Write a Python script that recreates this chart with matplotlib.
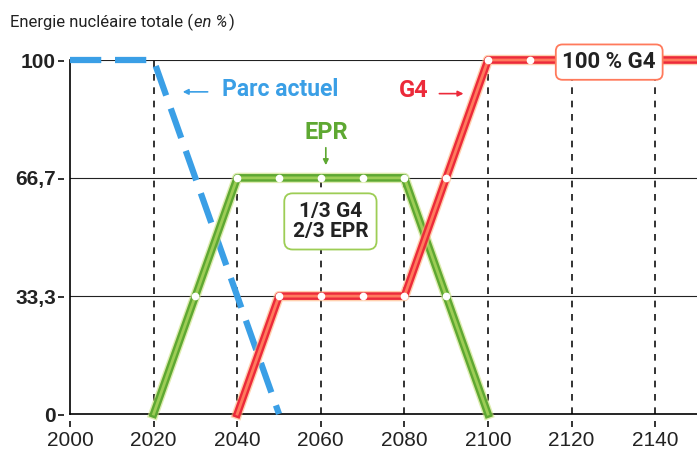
import numpy as np
import matplotlib.pyplot as plt
from matplotlib import font_manager
from matplotlib.transforms import offset_copy

# values (year, % of total nuclear energy)
parc_years = [2000, 2020, 2050]
parc_vals = [100, 100, 0]

epr_years = [2020, 2030, 2040, 2050, 2060, 2070, 2080, 2090, 2100]
epr_vals = [0, 33.3, 66.7, 66.7, 66.7, 66.7, 66.7, 33.3, 0]

g4_years = [2040, 2050, 2060, 2070, 2080, 2090, 2100, 2110, 2120, 2130, 2140, 2150]
g4_vals = [0, 33.3, 33.3, 33.3, 33.3, 66.7, 100, 100, 100, 100, 100, 100]

yticks = [0, 33.3, 66.7, 100]
ytick_labels = ['0', '33,3', '66,7', '100']
xticks = [2000, 2020, 2040, 2060, 2080, 2100, 2120, 2140]

# top of each vertical dashed guide
guide_x = [2020, 2040, 2060, 2080, 2100, 2120, 2140]
guide_top = [100, 66.7, 66.7, 66.7, 100, 100, 100]

blue = '#3a9fe6'
green_dk, green_lt = '#5ea832', '#9dcd55'
red_dk, red_lt = '#ec2a3a', '#ff7a5c'

names = {f.name for f in font_manager.fontManager.ttflist}
narrow = 'Liberation Sans Narrow' if 'Liberation Sans Narrow' in names else 'Roboto'
plt.rcParams['font.family'] = ['Liberation Sans', 'DejaVu Sans']

fig = plt.figure(figsize=(6.97, 4.53), dpi=100)
ax = fig.add_axes([70 / 697, 1 - 414 / 453, 1 - 70 / 697, (414 - 60) / 453])
ax.set_xlim(2000, 2150)
ax.set_ylim(0, 100)

# horizontal guides
for y in yticks[1:]:
    ax.axhline(y, color='#222222', lw=0.8, zorder=1)

# vertical dashed guides
for x, top in zip(guide_x, guide_top):
    ax.plot([x, x], [0, top], color='#111111', lw=1.2, dashes=(4, 4), zorder=1)

# parc actuel
ax.plot(parc_years, parc_vals, color=blue, lw=4.5, dashes=(5, 2.2),
        solid_capstyle='butt', clip_on=False, zorder=3)

# EPR
ax.plot(epr_years, epr_vals, color='#c8e07a', lw=7.5, alpha=0.6, clip_on=False, zorder=3)
ax.plot(epr_years, epr_vals, color=green_dk, lw=5.5, clip_on=False, zorder=3)
ax.plot(epr_years, epr_vals, color=green_lt, lw=2, clip_on=False, zorder=3)
ax.plot(epr_years[1:-1], epr_vals[1:-1], 'o', ms=4.5, mfc='white', mec='white',
        clip_on=False, zorder=5)

# G4
ax.plot(g4_years, g4_vals, color='#ffb27a', lw=7.5, alpha=0.6, clip_on=False, zorder=4)
ax.plot(g4_years, g4_vals, color=red_dk, lw=5.5, clip_on=False, zorder=4)
ax.plot(g4_years, g4_vals, color=red_lt, lw=2, clip_on=False, zorder=4)
ax.plot(g4_years[1:8], g4_vals[1:8], 'o', ms=4.5, mfc='white', mec='white',
        clip_on=False, zorder=5)

# axes styling
for s in ['top', 'right']:
    ax.spines[s].set_visible(False)
ax.spines['left'].set_linewidth(1.2)
ax.spines['bottom'].set_linewidth(1.2)
ax.set_yticks(yticks)
ax.set_yticklabels(ytick_labels, fontsize=15, fontweight='bold', color='#222222')
ax.set_xticks(xticks)
ax.set_xticklabels([str(x) for x in xticks], fontsize=15, color='#222222')
ax.tick_params(axis='y', length=0, pad=10)
ax.tick_params(axis='x', length=0, pad=12)

# detached tick marks, as in the printed figure
tx = offset_copy(ax.transData, fig=fig, x=0, y=-10, units='dots')
ax.plot(xticks, [0] * len(xticks), ls='', marker='|', ms=5, mew=1.3,
        color='#222222', transform=tx, clip_on=False)
ty = offset_copy(ax.transData, fig=fig, x=-9, y=-1, units='dots')
ax.plot([2000] * len(yticks), yticks, ls='', marker='_', ms=5, mew=1.3,
        color='#222222', transform=ty, clip_on=False)

# title, with "en %" in italics
t1 = fig.text(10 / 697, 1 - 22 / 453, 'Energie nucléaire totale (', fontsize=12,
              family=narrow, color='#222222', va='center', ha='left')
t2 = fig.text(0, 0, 'en %', fontsize=12, family=narrow, style='italic',
              color='#222222', va='baseline', ha='left')
t3 = fig.text(0, 0, ')', fontsize=12, family=narrow, color='#222222',
              va='baseline', ha='left')
fig.canvas.draw()
r = fig.canvas.get_renderer()
bb = t1.get_window_extent(r)
t2.set_position(((bb.x1 + 1) / fig.bbox.width, (bb.y0 + 3.2) / fig.bbox.height))
bb2 = t2.get_window_extent(r)
t3.set_position(((bb2.x1 + 1) / fig.bbox.width, (bb.y0 + 3.2) / fig.bbox.height))

# annotations
ax.text(2036.3, 91.8, 'Parc actuel', color=blue, fontsize=16.5, family=narrow,
        fontweight='bold', va='center', ha='left')
ax.annotate('', xy=(2026.3, 91), xytext=(2033.6, 91),
            arrowprops=dict(arrowstyle='-|>', color=blue, lw=1.2, mutation_scale=8))

ax.text(2061.2, 79.5, 'EPR', color=green_dk, fontsize=17, family=narrow,
        fontweight='bold', va='center', ha='center')
ax.annotate('', xy=(2061.2, 69.5), xytext=(2061.2, 76),
            arrowprops=dict(arrowstyle='-|>', color=green_dk, lw=1.2, mutation_scale=8))

ax.text(2082.3, 91.5, 'G4', color=red_dk, fontsize=17, family=narrow,
        fontweight='bold', va='center', ha='center')
ax.annotate('', xy=(2094.8, 90.5), xytext=(2087.7, 90.5),
            arrowprops=dict(arrowstyle='-|>', color=red_dk, lw=1.2, mutation_scale=8))

ax.text(2062.3, 54.4, '1/3 G4\n2/3 EPR', color='#222222', fontsize=15, family=narrow,
        fontweight='bold', va='center', ha='center', linespacing=1.1, zorder=6,
        bbox=dict(boxstyle='round,pad=0.4', fc='white', ec=green_lt, lw=1.3))

ax.text(2129, 99.4, '100 % G4', color='#222222', fontsize=16, family=narrow,
        fontweight='bold', va='center', ha='center', zorder=6,
        bbox=dict(boxstyle='round,pad=0.3', fc='white', ec=red_lt, lw=1.3))

fig.savefig('out.png', dpi=100)
